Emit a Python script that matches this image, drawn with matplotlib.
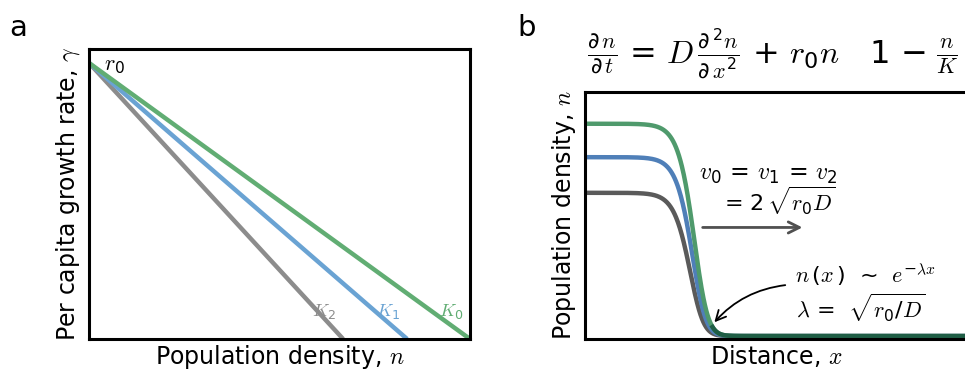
"""
Figura: logistic growth rate (a) e frente de Fisher-KPP (b)
"""

import matplotlib
import matplotlib.pyplot as plt
import numpy as np

matplotlib.use("Agg")

plt.rcParams["font.family"] = ["DejaVu Sans"]
plt.rcParams["mathtext.fontset"] = "custom"
plt.rcParams["mathtext.rm"] = "DejaVu Sans"
plt.rcParams["mathtext.it"] = "cmmi10"
plt.rcParams["mathtext.bf"] = "DejaVu Sans:bold"

# ── Painel a: taxa de crescimento per capita ─────────────────────────
r0 = 0.952
capacidades = [1.0, 0.835, 0.667]          # K0, K1, K2
rotulos_k = ["$K_0$", "$K_1$", "$K_2$"]
cores_a = ["#61ad73", "#6aa3d3", "#8c8c8c"]

# ── Painel b: perfis de densidade (frentes viajantes) ────────────────
niveis_b = [0.870, 0.733, 0.587]            # plateau de cada curva
centros_b = [0.302, 0.297, 0.291]           # posição da frente
largura_frente = 0.023
cores_b = ["#4f9a6c", "#4f7fb8", "#5a5a5a"]

fig = plt.figure(figsize=(9.65, 3.71), dpi=100)

# ── a ────────────────────────────────────────────────────────────────
ax_a = fig.add_axes([89 / 965, 32 / 371, 381 / 965, 290 / 371])
for K, cor in zip(capacidades[::-1], cores_a[::-1]):
    ax_a.plot([0, K], [r0, 0], color=cor, lw=3.2, solid_capstyle="butt")
ax_a.set_xlim(0, 1)
ax_a.set_ylim(0, 1)
ax_a.set_xticks([])
ax_a.set_yticks([])
for sp in ax_a.spines.values():
    sp.set_linewidth(2.2)

ax_a.text(0.04, r0 - 0.01, "$r_0$", fontsize=16, ha="left", va="center")
for K, rot, cor in zip(capacidades, rotulos_k, cores_a):
    ax_a.text(K - 0.05, 0.09, rot, fontsize=13, color=cor, ha="center", va="center")

ax_a.set_xlabel("Population density, $n$", fontsize=17, labelpad=3)
ax_a.set_ylabel("Per capita growth rate, $\\gamma$", fontsize=17, labelpad=5)

# ── b ────────────────────────────────────────────────────────────────
ax_b = fig.add_axes([585 / 965, 32 / 371, 383 / 965, 247 / 371])
x = np.linspace(0, 1, 800)
perfis = []
for nivel, centro in zip(niveis_b, centros_b):
    # forma de Ablowitz-Zeppetella para a frente de Fisher
    perfis.append(nivel / (1 + np.exp((x - centro) / largura_frente)) ** 2)
for n, cor in zip(perfis[::-1], cores_b[::-1]):
    ax_b.plot(x, n, color=cor, lw=3.2)
# cauda escura onde as curvas se sobrepõem
cauda = np.where(perfis[0] < 0.04, perfis[0], np.nan)
ax_b.plot(x, cauda, color="#1f5e45", lw=3.2)

ax_b.set_xlim(0, 1)
ax_b.set_ylim(-0.012, 1)
ax_b.set_xticks([])
ax_b.set_yticks([])
for sp in ax_b.spines.values():
    sp.set_linewidth(2.2)

ax_b.set_xlabel("Distance, $x$", fontsize=17, labelpad=3)
ax_b.set_ylabel("Population density, $n$", fontsize=17, labelpad=5)

ax_b.annotate("", xy=(0.575, 0.445), xytext=(0.300, 0.445),
              arrowprops=dict(arrowstyle="->", color="#505050", lw=2,
                              mutation_scale=20))
ax_b.text(0.480, 0.665, "$v_0$ = $v_1$ = $v_2$", fontsize=17, ha="center", va="center")
ax_b.text(0.509, 0.555, "= 2$\\,\\sqrt{r_0 D}$", fontsize=16, ha="center", va="center")

ax_b.annotate("", xy=(0.333, 0.048), xytext=(0.530, 0.21),
              arrowprops=dict(arrowstyle="->", color="black", lw=1.3,
                              mutation_scale=18,
                              connectionstyle="arc3,rad=0.2"))
ax_b.text(0.548, 0.25, "$n\\,(x\\,)$  ~  $e^{-\\lambda x}$", fontsize=16, ha="left", va="center")
ax_b.text(0.552, 0.115, "$\\lambda$ =  $\\sqrt{r_0/D}$", fontsize=16, ha="left", va="center")

fig.text(587 / 965, 1 - 54 / 371,
         "$\\frac{\\partial\\, n}{\\partial\\, t}$ = $D\\,\\frac{\\partial^{\\,2} n}{\\partial\\, x^2}$"
         " + $r_0 n$   1 − $\\frac{n}{K}$",
         fontsize=23, ha="left", va="center")

fig.text(18 / 965, 1 - 28 / 371, "a", fontsize=21, ha="center", va="center")
fig.text(527 / 965, 1 - 28 / 371, "b", fontsize=21, ha="center", va="center")

fig.savefig("out.png", dpi=100)
